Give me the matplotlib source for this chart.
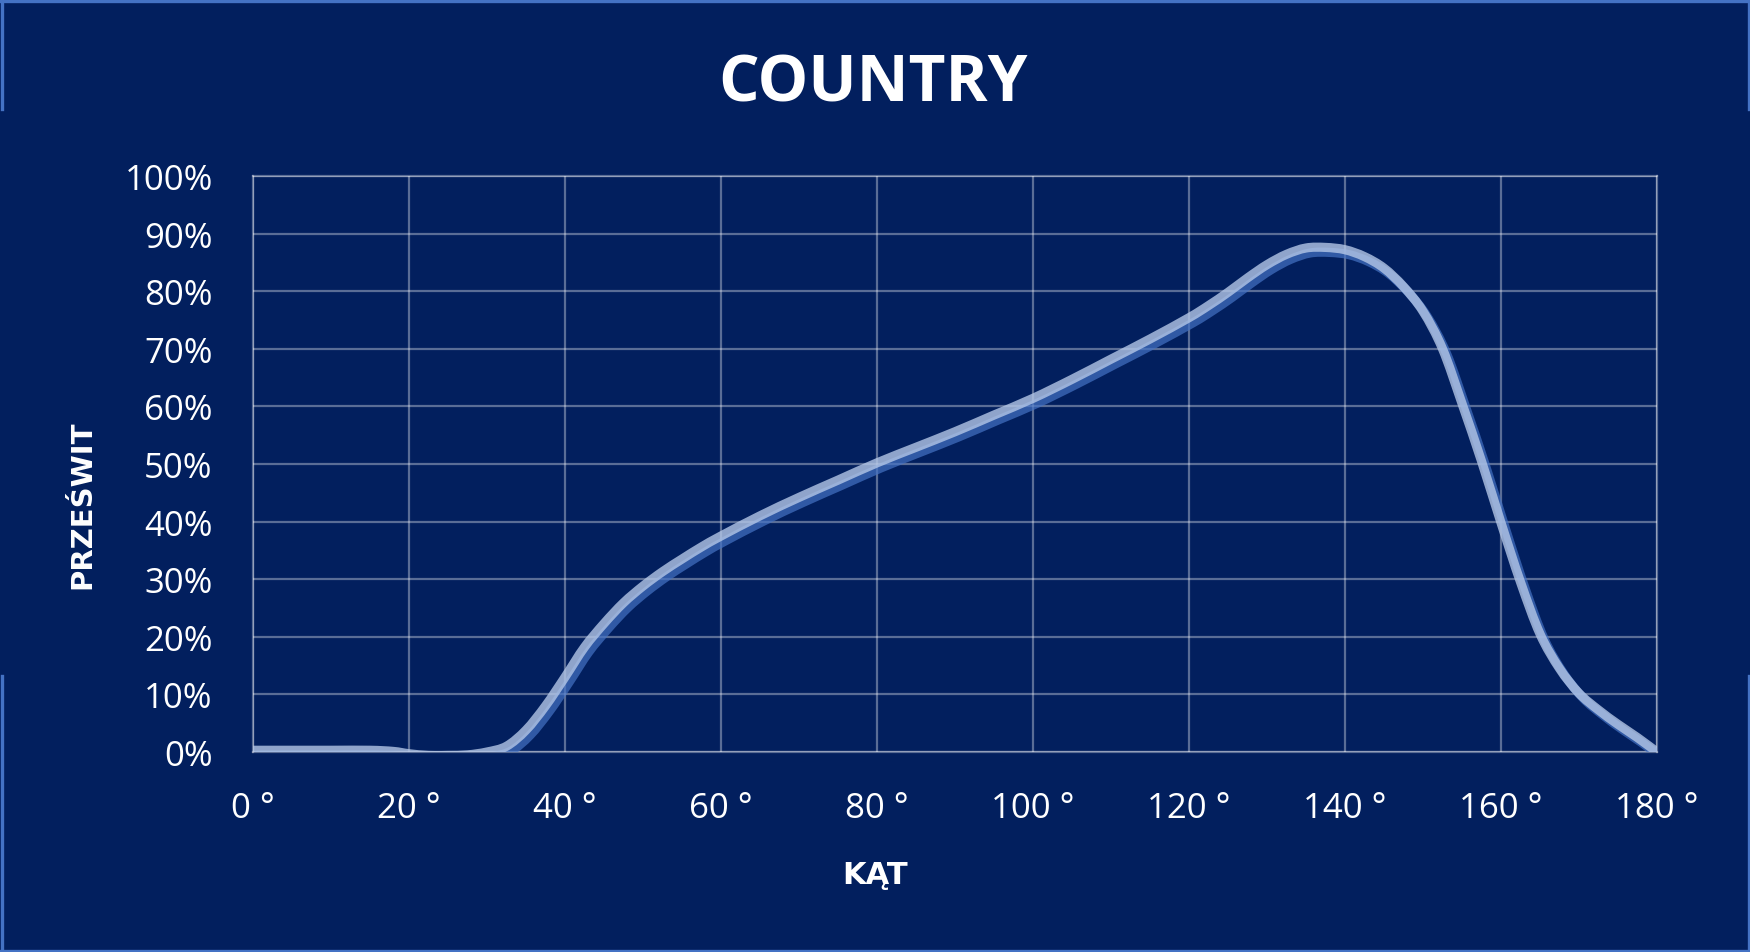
import numpy as np
import matplotlib
matplotlib.use("Agg")
import matplotlib.pyplot as plt
import matplotlib.patheffects as pe
from matplotlib.path import Path
from matplotlib.patches import PathPatch
from matplotlib.ticker import PercentFormatter

# curve: angle in degrees, clearance in percent
angles = [0, 5, 10, 15, 18, 20, 22.5, 25, 27.5, 30, 32.5, 35, 37.5, 40, 42.5,
          45, 47.5, 50, 52.5, 55, 57.5, 60, 65, 70, 75, 80, 85, 90, 95, 100,
          105, 110, 115, 120, 122.5, 125, 127.5, 130, 132.5, 135, 137.5, 140,
          142.5, 145, 147.5, 150, 152.5, 155, 157.5, 160, 162.5, 165, 167.5,
          170, 172.5, 175, 177.5, 180]
clearance = [0.3, 0.3, 0.3, 0.3, 0.1, -0.3, -0.6, -0.6, -0.5, 0.0, 1.0, 3.8,
             8.0, 13.0, 18.2, 22.3, 25.9, 28.8, 31.3, 33.5, 35.6, 37.5, 41.0,
             44.2, 47.2, 50.2, 52.9, 55.6, 58.5, 61.4, 64.7, 68.2, 71.7, 75.4,
             77.5, 79.8, 82.3, 84.6, 86.4, 87.5, 87.6, 87.2, 86.0, 84.0, 80.8,
             76.5, 70.0, 60.5, 50.5, 39.8, 29.5, 20.5, 14.5, 10.2, 7.3, 4.8,
             2.5, 0.0]

x_ticks = [0, 20, 40, 60, 80, 100, 120, 140, 160, 180]
x_labels = [str(t) + " °" for t in x_ticks]
y_ticks = [0, 10, 20, 30, 40, 50, 60, 70, 80, 90, 100]

bg = "#021F5E"
W, H = 1750, 953


# smooth line through the points (like the spreadsheet "smoothed line"),
# catmull-rom segments turned into cubic bezier path codes
def smooth_path(xs, ys):
    pts = np.column_stack([xs, ys]).astype(float)
    ext = np.vstack([pts[0], pts, pts[-1]])
    verts = [pts[0]]
    codes = [Path.MOVETO]
    for i in range(1, len(ext) - 2):
        p0, p1, p2, p3 = ext[i - 1], ext[i], ext[i + 1], ext[i + 2]
        verts += [p1 + (p2 - p0) / 6, p2 - (p3 - p1) / 6, p2]
        codes += [Path.CURVE4] * 3
    return Path(verts, codes)


fig = plt.figure(figsize=(W / 100, H / 100), dpi=100, facecolor=bg)
ax = fig.add_axes([253 / W, 1 - 753 / H, (1657 - 253) / W, (753 - 177) / H])
ax.set_facecolor(bg)

# the curve, with its darker blue copy shifted a little down and right
curve = PathPatch(smooth_path(angles, clearance), fill=False,
                  edgecolor="#B4C7E7", alpha=0.8, lw=6.6,
                  capstyle="round", joinstyle="round", zorder=3)
curve.set_path_effects([pe.SimpleLineShadow(offset=(3.0, -3.6), shadow_color="#4472C4", alpha=0.7),
                        pe.Normal()])
ax.add_patch(curve)

ax.set_xlim(0, 180)
ax.set_ylim(0, 100)
ax.set_xticks(x_ticks)
ax.set_xticklabels(x_labels)
ax.set_yticks(y_ticks)
ax.yaxis.set_major_formatter(PercentFormatter(decimals=0))

ax.grid(True, color="white", alpha=0.35, lw=1.6, zorder=1)
ax.set_axisbelow(True)
for s in ax.spines.values():
    s.set_color("white")
    s.set_alpha(0.35)
    s.set_linewidth(1.6)

ax.tick_params(axis="both", length=0, colors="white", labelsize=25)
ax.tick_params(axis="x", pad=28)
ax.tick_params(axis="y", pad=29)
for lab in ax.get_xticklabels() + ax.get_yticklabels():
    lab.set_family("Open Sans")

fig.text(873 / W, 1 - 101 / H, "COUNTRY", color="white", fontsize=46,
         fontweight="bold", family="Open Sans", ha="center", va="baseline")
fig.text(875 / W, 1 - 884 / H, "KĄT", color="white", fontsize=22,
         fontweight="bold", family="DejaVu Sans", ha="center", va="baseline")
fig.text(82 / W, 1 - 505 / H, "PRZEŚWIT", color="white", fontsize=21,
         fontweight="bold", family="DejaVu Sans", rotation=90,
         ha="center", va="center")

# slide frame: thin light blue border with gaps on the sides
frame = "#4472C4"
fig.add_artist(plt.Line2D([0, 1], [1 - 1.5 / H, 1 - 1.5 / H], color=frame, lw=2.4,
                          transform=fig.transFigure))
fig.add_artist(plt.Line2D([0, 1], [1.5 / H, 1.5 / H], color=frame, lw=2.4,
                          transform=fig.transFigure))
for xx in [1.5 / W, 1 - 1.5 / W]:
    fig.add_artist(plt.Line2D([xx, xx], [1, 1 - 110 / H], color=frame, lw=2.4,
                              transform=fig.transFigure))
    fig.add_artist(plt.Line2D([xx, xx], [1 - 677 / H, 0], color=frame, lw=2.4,
                              transform=fig.transFigure))

fig.savefig("out.png", dpi=100, facecolor=bg)
